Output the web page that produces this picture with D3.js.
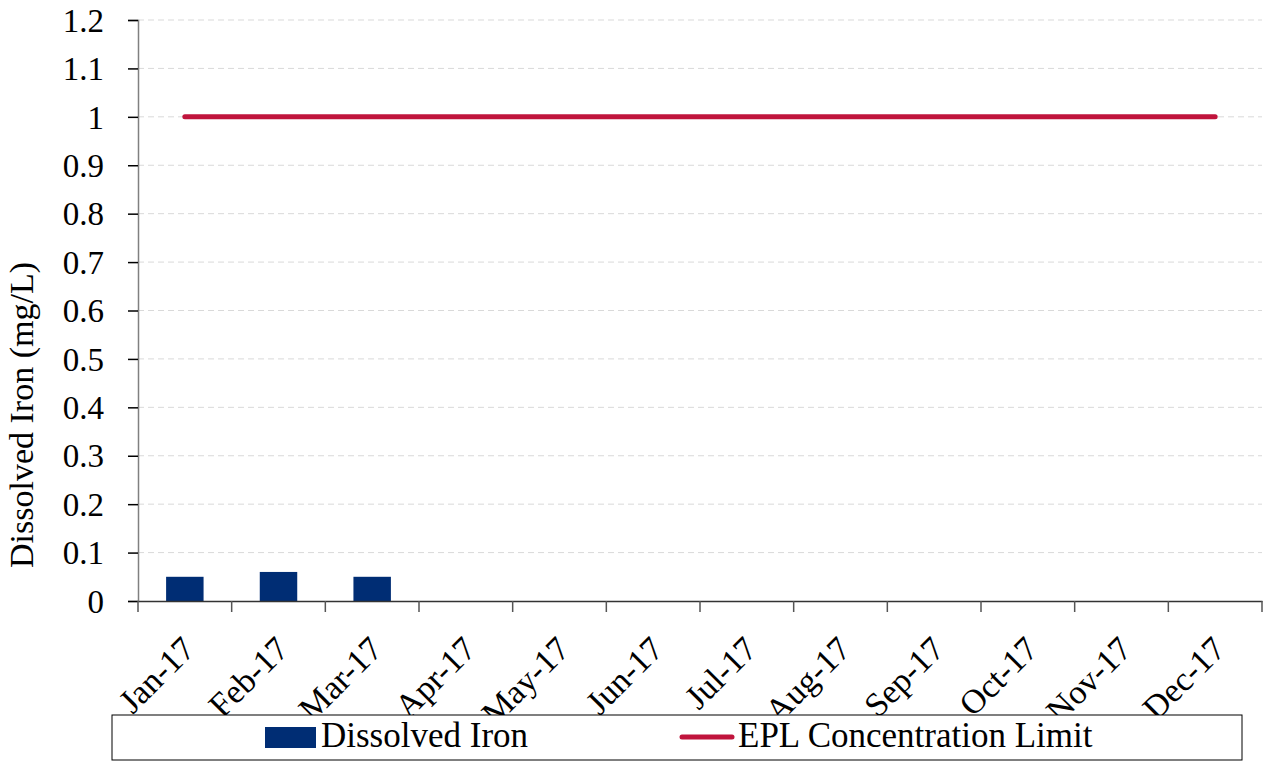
<!DOCTYPE html>
<meta charset="utf-8">
<style>
body { margin: 0; background: #fff; }
svg text { font-family: "Liberation Serif", "Times New Roman", serif; fill: #000; }
.grid line { stroke: #d9d9d9; stroke-dasharray: 6,4; }
</style>
<body>
<script src="https://d3js.org/d3.v7.min.js"></script>
<script>
var months = ["Jan-17","Feb-17","Mar-17","Apr-17","May-17","Jun-17","Jul-17","Aug-17","Sep-17","Oct-17","Nov-17","Dec-17"];
var iron = [0.05, 0.06, 0.05, null, null, null, null, null, null, null, null, null];
var limit = [1, 1, 1, 1, 1, 1, 1, 1, 1, 1, 1, 1];
var yTicks = [0, 0.1, 0.2, 0.3, 0.4, 0.5, 0.6, 0.7, 0.8, 0.9, 1, 1.1, 1.2];

var width = 1264, height = 762;
var plotL = 138, plotR = 1262, plotT = 20, plotB = 601;

var svg = d3.select("body").append("svg")
  .attr("width", width)
  .attr("height", height);

var x = d3.scaleBand().domain(months).range([plotL, plotR]).paddingInner(0).paddingOuter(0);
var y = d3.scaleLinear().domain([0, 1.2]).range([plotB, plotT]);

// gridlines
svg.append("g").attr("class", "grid")
  .selectAll("line")
  .data(yTicks.filter(function(d) { return d > 0; }))
  .enter().append("line")
    .attr("x1", plotL).attr("x2", plotR)
    .attr("y1", function(d) { return y(d); })
    .attr("y2", function(d) { return y(d); });

// bars
var bw = x.bandwidth() * 0.4;
svg.append("g")
  .selectAll("rect")
  .data(months.map(function(m, i) { return {m: m, v: iron[i]}; }).filter(function(d) { return d.v != null; }))
  .enter().append("rect")
    .attr("x", function(d) { return x(d.m) + x.bandwidth() / 2 - bw / 2; })
    .attr("y", function(d) { return y(d.v); })
    .attr("width", bw)
    .attr("height", function(d) { return y(0) - y(d.v); })
    .attr("fill", "#002d74");

// limit line
var line = d3.line()
  .x(function(d, i) { return x(months[i]) + x.bandwidth() / 2; })
  .y(function(d) { return y(d); });
svg.append("path")
  .datum(limit)
  .attr("d", line)
  .attr("fill", "none")
  .attr("stroke", "#c0143c")
  .attr("stroke-width", 5)
  .attr("stroke-linecap", "round");

// y axis
var yAxis = svg.append("g")
  .attr("transform", "translate(" + plotL + ",0)")
  .call(d3.axisLeft(y).tickValues(yTicks).tickSize(10).tickPadding(24)
    .tickFormat(function(d) { return String(+d.toFixed(1)); }));
yAxis.select(".domain").attr("stroke", "#808080").attr("stroke-width", 1.5);
yAxis.selectAll(".tick line").attr("stroke", "#000").attr("stroke-width", 1.5);
yAxis.selectAll("text").style("font-size", "33px").attr("dy", "0.34em");

// x axis
var xAxis = svg.append("g")
  .attr("transform", "translate(0," + plotB + ")")
  .call(d3.axisBottom(x).tickSize(0).tickFormat(""));
xAxis.select(".domain").attr("stroke", "#333").attr("stroke-width", 1.5);
xAxis.selectAll(".tick").remove();

var bounds = months.map(function(m) { return x(m); }).concat([plotR]);
svg.append("g").selectAll("line")
  .data(bounds)
  .enter().append("line")
    .attr("x1", function(d) { return d; }).attr("x2", function(d) { return d; })
    .attr("y1", plotB).attr("y2", plotB + 11)
    .attr("stroke", "#555").attr("stroke-width", 1.5);

svg.append("g").selectAll("text")
  .data(months)
  .enter().append("text")
    .attr("transform", function(d) { return "translate(" + (x(d) + x.bandwidth() / 2 + 12) + "," + (plotB + 50) + ") rotate(-45)"; })
    .attr("text-anchor", "end")
    .style("font-size", "34px")
    .text(function(d) { return d; });

// y title
svg.append("text")
  .attr("transform", "translate(33,415) rotate(-90)")
  .attr("text-anchor", "middle")
  .style("font-size", "34px")
  .text("Dissolved Iron (mg/L)");

// legend
var lg = svg.append("g");
lg.append("rect")
  .attr("x", 112).attr("y", 715).attr("width", 1130).attr("height", 45)
  .attr("fill", "#fff").attr("stroke", "#000").attr("stroke-width", 1);
lg.append("rect")
  .attr("x", 265).attr("y", 727).attr("width", 51).attr("height", 21)
  .attr("fill", "#002d74");
lg.append("text")
  .attr("x", 321).attr("y", 747)
  .style("font-size", "35px")
  .text("Dissolved Iron");
lg.append("line")
  .attr("x1", 682).attr("x2", 732).attr("y1", 737).attr("y2", 737)
  .attr("stroke", "#c0143c").attr("stroke-width", 5).attr("stroke-linecap", "round");
lg.append("text")
  .attr("x", 738).attr("y", 747)
  .style("font-size", "35px")
  .text("EPL Concentration Limit");
</script>
